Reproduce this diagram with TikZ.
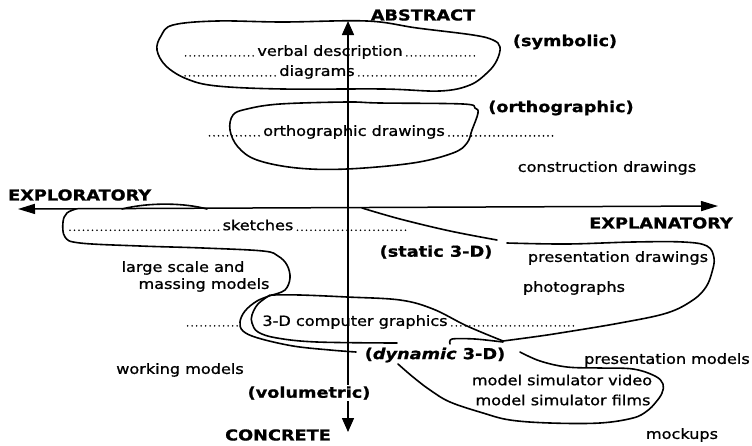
\documentclass[tikz,border=0pt]{standalone}
\usepackage{fontspec}
\usetikzlibrary{arrows.meta}
\newfontfamily\plainfont{DejaVu Sans}[FakeStretch=1.15, FakeBold=1]
\newfontfamily\tagfont{DejaVu Sans}[FakeStretch=1.18, FakeBold=1]
\tikzset{
  txt/.style={font=\plainfont\fontsize{14}{16}\selectfont, inner sep=0pt},
  tag/.style={font=\tagfont\bfseries\fontsize{15}{17}\selectfont, inner sep=0pt},
  blob/.style={line width=1.6pt, line join=round, line cap=round},
  leader/.style={line width=1.8pt, line cap=round, dash pattern=on 0pt off 4.5pt},
  axisline/.style={line width=1.5pt},
}
\begin{document}
\begin{tikzpicture}[x=1pt, y=-1pt]
\useasboundingbox (0,0) rectangle (752,445);

% axes
\coordinate (abs) at (348,21);
\coordinate (con) at (348,432);
\coordinate (expo) at (18,209);
\coordinate (expl) at (718,206);
\draw[axisline, {Triangle[length=14pt, width=12pt]}-{Triangle[length=14pt, width=12pt]}] (con) -- (abs);
\draw[axisline, {Triangle[length=17pt, width=10pt]}-{Triangle[length=17pt, width=10pt]}] (expo) -- (expl);

% symbolic region
\draw[blob] plot[smooth cycle, tension=0.6] coordinates {(173,25) (217,21) (283,22) (367,21) (417,28) (473,35) (493,40) (500,47) (497,60) (488,72) (470,85) (440,91) (383,89) (283,89) (217,86) (187,79) (166,66) (157,50) (161,36)};

% orthographic region
\draw[blob] plot[smooth cycle, tension=0.6] coordinates {(233,115) (247,109) (280,104) (347,102) (380,103) (463,104) (475,108) (478,113) (472,130) (467,143) (453,153) (413,163) (347,169) (297,168) (257,160) (238,147) (230,130)};

% static 3-D region (sketches, massing models, presentation drawings)
\draw[blob] (122,209) .. controls (150,202) and (185,203) .. (207,209);
\draw[blob] plot[smooth, tension=0.6] coordinates {(362,208) (400,219) (450,231) (497,240)};
\draw[blob] plot[smooth, tension=0.6] coordinates {(507,243) (567,244) (633,242) (683,242) (707,246) (714,258) (712,272) (706,287) (693,300) (667,313) (620,323) (560,333) (533,337) (503,341)};
\draw[blob] plot[smooth, tension=0.6] coordinates {(503,341) (467,326) (433,309) (400,300) (347,297) (300,295) (272,295)};
\draw[blob] plot[smooth, tension=0.6] coordinates {(272,295) (285,290) (290,278) (287,265) (278,256) (263,251) (203,248) (140,246) (80,243) (65,237) (63,222) (67,213) (76,209)};

% dynamic 3-D region
\draw[blob] plot[smooth, tension=0.6] coordinates {(272,295) (257,301) (245,311) (240,322) (243,331) (258,338) (293,346) (330,350) (356,352)};
\draw[blob] plot[smooth, tension=0.6] coordinates {(270,295) (258,304) (252,315) (252,323) (258,332) (277,338) (317,342) (397,343)};
\draw[blob] plot[smooth, tension=0.5] coordinates {(450,344) (452,339) (475,339) (503,342)};
\draw[blob] plot[smooth, tension=0.6] coordinates {(398,364) (413,377) (430,390) (450,402) (483,413) (510,420) (550,423) (600,423) (633,418) (647,411) (656,402) (662,393) (663,384) (655,376) (633,369) (600,368) (567,367) (540,361) (520,352)};

% axis labels
\node[tag] (abstract) at (423,15) {ABSTRACT};
\node[tag] (concrete) at (278,435) {CONCRETE};
\node[tag, anchor=west] (exploratory) at (8,195) {EXPLORATORY};
\node[tag] (explanatory) at (661,223) {EXPLANATORY};

% category labels
\node[tag] (symbolic) at (565,42) {(symbolic)};
\node[tag] (orthographic) at (561,108) {(orthographic)};
\node[tag] (static) at (436,252) {(static 3-D)};
\node[tag] (dynamic) at (435,355) {({\itshape dynamic} 3-D)};
\node[tag, fill=white, inner sep=1pt] (volumetric) at (309,393) {(volumetric)};

% media
\node[txt] (verbal) at (330,52) {verbal description};
\node[txt] (diagrams) at (317,72) {diagrams};
\node[txt] (orthodraw) at (354,132) {orthographic drawings};
\node[txt] (construction) at (607,168) {construction drawings};
\node[txt] (sketches) at (258,225) {sketches};
\node[txt] (presdraw) at (618,258) {presentation drawings};
\node[txt] (largescale) at (183,268) {large scale and};
\node[txt] (massing) at (204,285) {massing models};
\node[txt] (photos) at (574,288) {photographs};
\node[txt] (cgraphics) at (355,322) {3-D computer graphics};
\node[txt] (presmodels) at (667,360) {presentation models};
\node[txt] (working) at (180,370) {working models};
\node[txt] (simvideo) at (562,380) {model simulator video};
\node[txt] (simfilms) at (563,400) {model simulator films};
\node[txt] (mockups) at (682,435) {mockups};

% leader dots
\draw[leader] ([xshift=-4pt]verbal.base west) -- ++(-70,0);
\draw[leader] ([xshift=4pt]verbal.base east) -- ++(68,0);
\draw[leader] ([xshift=-4pt]diagrams.base west) -- ++(-94,0);
\draw[leader] ([xshift=4pt]diagrams.base east) -- ++(121,0);
\draw[leader] ([xshift=-4pt]orthodraw.base west) -- ++(-53,0);
\draw[leader] ([xshift=4pt]orthodraw.base east) -- ++(104,0);
\draw[leader] ([xshift=-4pt]sketches.base west) -- ++(-149,0);
\draw[leader] ([xshift=4pt]sketches.base east) -- ++(110,0);
\draw[leader] ([xshift=-25pt]cgraphics.base west) -- ++(-51,0);
\draw[leader] ([xshift=4pt]cgraphics.base east) -- ++(126,0);
\end{tikzpicture}
\end{document}
